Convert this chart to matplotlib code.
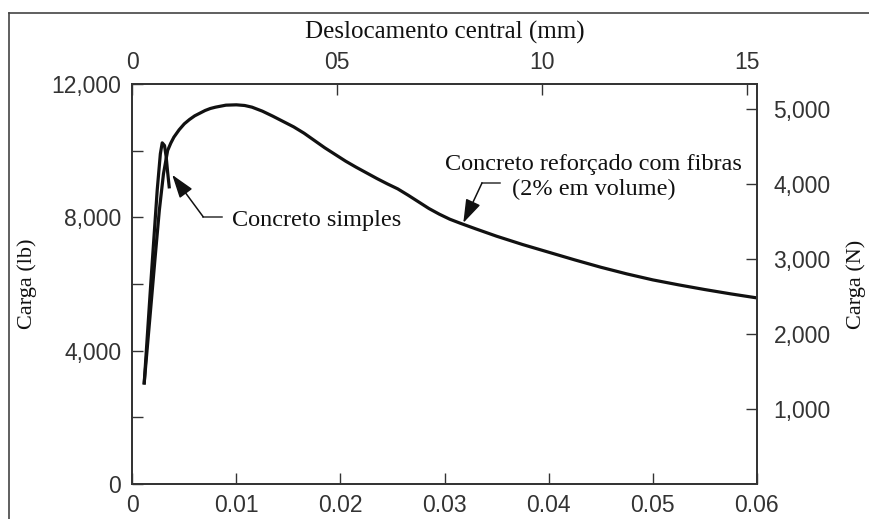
import matplotlib
matplotlib.use("Agg")
import matplotlib.pyplot as plt
from matplotlib.lines import Line2D


# Load-deflection curves (x in inches, load in lb)
plain_x = [0.00115, 0.0018, 0.0024, 0.0027, 0.00288, 0.0031, 0.00326, 0.0034, 0.00355]
plain_y = [3030, 6100, 8820, 9900, 10230, 10150, 9810, 9350, 8910]

fiber_x = [0.00115, 0.0017, 0.0022, 0.0026, 0.0030, 0.0034, 0.0037, 0.0040, 0.0045,
           0.0050, 0.0055, 0.0060, 0.0065, 0.0070, 0.0075, 0.0080, 0.0090, 0.0100,
           0.0108, 0.0115, 0.0125, 0.0135, 0.0145, 0.0155, 0.0165, 0.0175, 0.0185,
           0.0195, 0.0205, 0.0215, 0.0225, 0.0235, 0.0245, 0.0255, 0.0265, 0.0275,
           0.0285, 0.0295, 0.0305, 0.0315, 0.0330, 0.0350, 0.0375, 0.0400, 0.0425,
           0.0450, 0.0475, 0.0500, 0.0525, 0.0550, 0.0575, 0.0600]
fiber_y = [3030, 5000, 6800, 8200, 9300, 10000, 10220, 10400, 10620,
           10800, 10930, 11040, 11120, 11200, 11260, 11300, 11360, 11370,
           11350, 11300, 11180, 11030, 10870, 10710, 10520, 10300, 10080,
           9880, 9680, 9500, 9330, 9160, 9000, 8850, 8660, 8460,
           8260, 8090, 7940, 7820, 7650, 7430, 7180, 6950, 6720,
           6500, 6300, 6120, 5970, 5830, 5700, 5580]

# Axis ticks and labels (kept as printed in the source figure)
bottom_ticks = [0, 0.01, 0.02, 0.03, 0.04, 0.05, 0.06]
bottom_labels = ["0", "0.01", "0.02", "0.03", "0.04", "0.05", "0.06"]
left_ticks = [0, 2000, 4000, 6000, 8000, 10000, 12000]
left_labels = ["0", "", "4,000", "", "8,000", "", "12,000"]
top_ticks = [0, 0.5, 1.0, 1.5]
top_labels = ["0", "05", "10", "15"]
right_ticks = [1000, 2000, 3000, 4000, 5000]
right_labels = ["1,000", "2,000", "3,000", "4,000", "5,000"]

# Annotation geometry: (text anchor, elbow, arrow tip)
plain_note = ((0.00864, 8010), (0.00682, 8010), (0.00384, 9270))
fiber_note = ((0.0353, 9030), (0.0336, 9030), (0.0318, 7830))

SERIF = ["Liberation Serif", "DejaVu Serif"]
SANS = ["Liberation Sans", "DejaVu Sans"]
INK = "#111111"
TICK_INK = "#333333"
TICK_SIZE = 16.5

fig = plt.figure(figsize=(8.7, 5.19), dpi=100)
ax = fig.add_axes([0.152, 0.0675, 0.718, 0.771])

ax.plot(fiber_x, fiber_y, color=INK, linewidth=2.3, solid_joinstyle="round")
ax.plot(plain_x, plain_y, color=INK, linewidth=2.3, solid_joinstyle="round")

ax.set_xlim(0, 0.06)
ax.set_ylim(0, 12000)
ax.set_xticks(bottom_ticks)
ax.set_xticklabels(bottom_labels)
ax.set_yticks(left_ticks)
ax.set_yticklabels(left_labels)
ax.tick_params(direction="in", length=8, width=1.0, color=TICK_INK,
               labelsize=TICK_SIZE, labelcolor=TICK_INK)
ax.tick_params(axis="x", pad=7)
ax.tick_params(axis="y", pad=8)
for lbl in ax.get_xticklabels() + ax.get_yticklabels():
    lbl.set_family(SANS)
ax.set_ylabel("Carga (lb)", family=SERIF, fontsize=16, color=INK, labelpad=10)

# Metric axes: top in mm, right in N
top = ax.twiny()
top.set_xlim(0, 0.06 * 25.4)
top.set_xticks(top_ticks)
top.set_xticklabels(top_labels)
top.tick_params(direction="in", length=8, width=1.0, color=TICK_INK,
                labelsize=TICK_SIZE, labelcolor=TICK_INK, pad=7)
for lbl in top.get_xticklabels():
    lbl.set_family(SANS)
top.set_xlabel("Deslocamento central (mm)", family=SERIF, fontsize=18,
               color=INK, labelpad=9)

right = ax.twinx()
right.set_ylim(0, 12000 * 0.4448)
right.set_yticks(right_ticks)
right.set_yticklabels(right_labels)
right.tick_params(direction="in", length=8, width=1.0, color=TICK_INK,
                  labelsize=TICK_SIZE, labelcolor=TICK_INK, pad=12)
for lbl in right.get_yticklabels():
    lbl.set_family(SANS)
right.set_ylabel("Carga (N)", family=SERIF, fontsize=16, color=INK, labelpad=11)

for a in (ax, top, right):
    for sp in a.spines.values():
        sp.set_linewidth(1.1)
        sp.set_color("#333333")

# Callouts with an elbow leader and filled arrow head
for (txt, elbow, tip) in (plain_note, fiber_note):
    ax.plot([txt[0], elbow[0]], [txt[1], elbow[1]], color="#333333", linewidth=1.1)
    ax.annotate("", xy=tip, xytext=elbow,
                arrowprops=dict(arrowstyle="-|>,head_length=0.9,head_width=0.3",
                                color="#111111", linewidth=1.1, mutation_scale=16,
                                shrinkA=0, shrinkB=0))

ax.text(0.0096, 7900, "Concreto simples", family=SERIF, fontsize=17.5,
        color=INK, ha="left", va="center")
ax.text(0.0443, 9200, "Concreto reforçado com fibras\n(2% em volume)", family=SERIF,
        fontsize=17.5, color=INK, ha="center", va="center", linespacing=1.2)

# Frame of the scanned page
fig.add_artist(Line2D([9 / 870, 9 / 870], [0, 1 - 13 / 519], color="#444444", linewidth=1.2))
fig.add_artist(Line2D([9 / 870, 1], [1 - 13 / 519, 1 - 13 / 519], color="#444444", linewidth=1.2))

fig.savefig("out.png", dpi=100)
plt.close(fig)
